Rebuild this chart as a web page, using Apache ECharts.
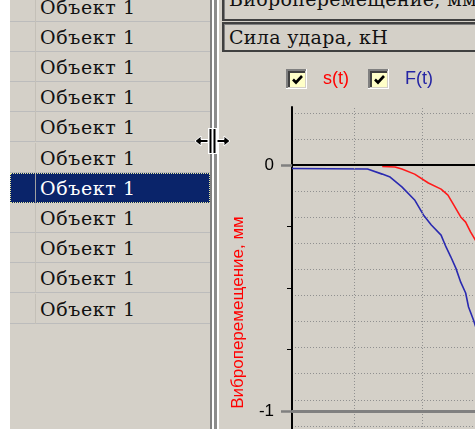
<!DOCTYPE html>
<html>
<head>
<meta charset="utf-8">
<script src="https://cdn.jsdelivr.net/npm/echarts@6/dist/echarts.min.js"></script>
<style>
  body { margin: 0; width: 475px; height: 429px; overflow: hidden; background: #d4d0c8; position: relative; }
  .strip { position: absolute; left: 0; top: 0; width: 10px; height: 429px; background: #fff; }
  #list { position: absolute; left: 10px; top: 0; width: 200px; height: 429px; overflow: hidden; }
  .row { position: absolute; left: 0; width: 200px; height: 30px; box-sizing: border-box;
         border-bottom: 1px solid #bcbcbc; font: 19px "DejaVu Serif"; letter-spacing: 0.6px; color: #111; line-height: 31px; }
  .row .cell { position: absolute; left: 30px; top: 0; }
  .row .sep { position: absolute; left: 25px; top: 0; width: 1px; height: 30px; background: #c4c0b8; }
  .row.sel { background: #0a246a; color: #fff; border: 1px dotted #e8e8a0; line-height: 29px; }
  .row.sel .cell { left: 29px; }
  .row.sel .sep { background: #a0a0a0; left: 24px; }
  .vbar { position: absolute; top: 0; height: 429px; }
  .combo { position: absolute; left: 222px; width: 260px; height: 30px; box-sizing: border-box;
           border-top: 2px solid #404040; border-left: 2px solid #404040; border-bottom: 2px solid #404040;
           box-shadow: inset 1px 1px 0 #808080; font: 19px "DejaVu Serif"; letter-spacing: 0.3px; color: #111;
           line-height: 27px; padding-left: 5px; white-space: nowrap; }
  #chart { position: absolute; left: 222px; top: 55px; width: 400px; height: 440px; }
  #cursor { position: absolute; left: 194px; top: 128px; }
</style>
</head>
<body>
<div class="strip"></div>
<div id="list"></div>
<div class="vbar" style="left:210px;width:2px;background:#808080"></div>
<div class="vbar" style="left:212px;width:2px;background:#fff"></div>
<div class="vbar" style="left:214px;width:3px;background:#8c8c8c"></div>
<div class="vbar" style="left:217px;width:2px;background:#fff"></div>
<div class="combo" style="top:-18px;height:39px;line-height:30px">Виброперемещение, мм</div>
<div class="combo" style="top:22px">Сила удара, кН</div>
<div id="chart"></div>
<svg id="cursor" width="40" height="26" viewBox="0 0 40 26">
  <rect x="14" y="0" width="9" height="26" fill="#fff"/>
  <rect x="15.5" y="1" width="2" height="24" fill="#000"/>
  <rect x="19.5" y="1" width="2" height="24" fill="#000"/>
  <polygon points="1,13 7,8 7,11.5 14,11.5 14,14.5 7,14.5 7,18" fill="#000" stroke="#fff" stroke-width="1"/>
  <polygon points="36,13 30,8 30,11.5 23,11.5 23,14.5 30,14.5 30,18" fill="#000" stroke="#fff" stroke-width="1"/>
</svg>
<script>
  // список объектов слева
  const objects = ['Объект 1', 'Объект 1', 'Объект 1', 'Объект 1', 'Объект 1', 'Объект 1',
    'Объект 1', 'Объект 1', 'Объект 1', 'Объект 1', 'Объект 1']
  const selectedIndex = 6

  // s(t): виброперемещение, мм
  const sTime = [1.314, 1.5, 1.6, 1.786, 1.986, 2.171, 2.271, 2.357, 2.457, 2.529, 2.6, 2.671, 2.743]
  const sValue = [-0.006, -0.008, -0.016, -0.037, -0.073, -0.098, -0.122, -0.163, -0.211, -0.232, -0.272, -0.305, -0.346]
  // F(t): сила удара
  const fTime = [0, 1.1, 1.314, 1.429, 1.6, 1.786, 1.914, 2.029, 2.171, 2.243, 2.314, 2.386, 2.457, 2.529, 2.571, 2.643, 2.714]
  const fValue = [-0.014, -0.016, -0.037, -0.049, -0.089, -0.142, -0.203, -0.244, -0.285, -0.333, -0.374, -0.419, -0.476, -0.52, -0.577, -0.63, -0.691]

  const yLabels = [0, -1]
  const yMinorTicks = [-0.25, -0.5, -0.75]
  const timeGrid = [0.9, 1.9]

  const list = document.getElementById('list')
  objects.forEach((name, i) => {
    const row = document.createElement('div')
    row.className = 'row' + (i === selectedIndex ? ' sel' : '')
    row.style.top = (-8.5 + 30.2 * i) + 'px'
    row.innerHTML = '<div class="sep"></div><div class="cell">' + name + '</div>'
    list.appendChild(row)
  })

  const checkIcon = 'image://data:image/svg+xml;charset=utf-8,' + encodeURIComponent(
    "<svg xmlns='http://www.w3.org/2000/svg' width='32' height='20' viewBox='0 0 32 20' preserveAspectRatio='none'>" +
    "<rect x='0' y='0' width='21' height='20' fill='#ffffff'/>" +
    "<rect x='0' y='0' width='20' height='19' fill='#808080'/>" +
    "<rect x='2' y='2' width='18' height='17' fill='#d4d0c8'/>" +
    "<rect x='2' y='2' width='17' height='16' fill='#404040'/>" +
    "<rect x='4' y='4' width='15' height='14' fill='#ffffc8'/>" +
    "<polyline points='7,10.5 10,13.5 16,7' fill='none' stroke='#000' stroke-width='2.6'/>" +
    "</svg>")

  const gridStep = 0.106
  const yMin = -1.272
  const yMax = 0.2358
  const dotted = { color: '#909090', width: 1, type: [1, 2] }

  const chart = echarts.init(document.getElementById('chart'))
  chart.setOption({
    backgroundColor: 'transparent',
    animation: false,
    legend: {
      left: 59,
      top: 9,
      itemWidth: 32,
      itemHeight: 20,
      itemGap: 19,
      selectedMode: false,
      textStyle: { fontSize: 18, fontFamily: 'Liberation Sans' },
      data: [
        { name: 's(t)', icon: checkIcon, textStyle: { color: '#ff0000' } },
        { name: 'F(t)', icon: checkIcon, textStyle: { color: '#2424a4' } }
      ]
    },
    grid: { left: 66, top: 52, right: 124, bottom: 17 },
    xAxis: {
      type: 'value',
      min: 0,
      max: 3,
      position: 'top',
      axisLine: { show: true, lineStyle: { color: '#303030', width: 1.5, type: [2, 2] } },
      axisTick: { show: false },
      axisLabel: { show: false },
      splitLine: { show: false }
    },
    yAxis: [
      {
        type: 'value',
        min: yMin,
        max: yMax,
        position: 'left',
        name: 'Виброперемещение, мм',
        nameLocation: 'middle',
        nameRotate: 90,
        nameGap: 45,
        nameTextStyle: { color: '#ff0000', fontSize: 17, fontFamily: 'Liberation Sans', padding: [0, 40, 0, 0] },
        axisLine: { show: true, onZero: false, lineStyle: { color: '#000', width: 2 } },
        axisTick: { show: true, customValues: yMinorTicks, length: 5, lineStyle: { color: '#000', width: 1 } },
        axisLabel: { customValues: yLabels, color: '#000', fontSize: 17, fontFamily: 'Liberation Sans', margin: 18 },
        splitLine: { show: false }
      },
      {
        type: 'value',
        min: yMin,
        max: yMax,
        position: 'left',
        axisLine: { show: false },
        axisTick: { show: true, customValues: yLabels, length: 11, lineStyle: { color: '#808080', width: 2.5 } },
        axisLabel: { show: false },
        splitLine: { show: false }
      },
      {
        type: 'value',
        min: yMin,
        max: yMax,
        interval: gridStep,
        position: 'left',
        axisLine: { show: false },
        axisTick: { show: false },
        axisLabel: { show: false },
        splitLine: { show: true, showMinLine: false, showMaxLine: false, lineStyle: dotted }
      }
    ],
    series: [
      {
        name: 's(t)',
        type: 'line',
        showSymbol: false,
        color: '#ff0000',
        lineStyle: { color: '#ff1a1a', width: 1.6 },
        data: sTime.map((t, i) => [t, sValue[i]]),
        markLine: {
          silent: true,
          symbol: 'none',
          label: { show: false },
          lineStyle: dotted,
          data: timeGrid.map(t => ({ xAxis: t }))
        },
        z: 3
      },
      {
        name: 'F(t)',
        type: 'line',
        showSymbol: false,
        color: '#2424a4',
        lineStyle: { color: '#2a2ab0', width: 1.6 },
        data: fTime.map((t, i) => [t, fValue[i]]),
        markLine: {
          silent: true,
          symbol: 'none',
          label: { show: false },
          data: [
            { yAxis: yLabels[0], lineStyle: { color: '#000', width: 2, type: 'solid' } },
            { yAxis: yLabels[1], lineStyle: { color: '#808080', width: 3, type: 'solid' } }
          ]
        },
        z: 3
      }
    ]
  })
</script>
</body>
</html>
